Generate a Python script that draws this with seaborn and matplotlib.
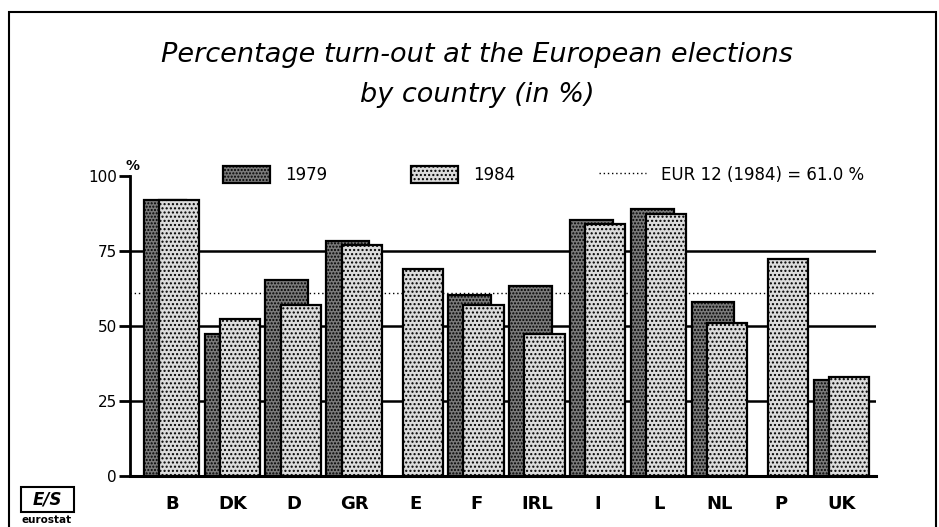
import numpy as np
import pandas as pd
import matplotlib
matplotlib.use('Agg')
import matplotlib.pyplot as plt
from matplotlib.patches import Patch, Rectangle
from matplotlib.lines import Line2D
import seaborn as sns

sns.set_theme(style='white')
plt.rcParams['font.family'] = ['DejaVu Sans']
plt.rcParams['hatch.linewidth'] = 1.0
plt.rcParams['text.color'] = 'black'
plt.rcParams['xtick.color'] = 'black'
plt.rcParams['ytick.color'] = 'black'
plt.rcParams['axes.labelcolor'] = 'black'

# data
countries = ['B', 'DK', 'D', 'GR', 'E', 'F', 'IRL', 'I', 'L', 'NL', 'P', 'UK']
turnout_1979 = [92, 47.5, 65.5, 78.5, np.nan, 60.5, 63.5, 85.5, 89, 58, np.nan, 32]
turnout_1984 = [92, 52.5, 57, 77, 69, 57, 47.5, 84, 87.5, 51, 72.5, 33]
eur12_1984 = 61.0

pos = np.arange(len(countries))
df79 = pd.DataFrame({'x': pos - 0.11, 'v': turnout_1979}).dropna()
df84 = pd.DataFrame({'x': pos + 0.12, 'v': turnout_1984}).dropna()

fig = plt.figure(figsize=(9.39, 5.27), dpi=100)
ax = fig.add_axes([130 / 939, 1 - 476 / 527, 746 / 939, 300 / 527])

# reference lines behind the bars
for g in [25, 50, 75]:
    ax.axhline(g, color='black', lw=1.8, zorder=0)
ax.axhline(eur12_1984, color='black', lw=1.0, ls=(0, (1, 2)), zorder=0)

style79 = dict(color='#7a7a7a', hatch='.....', edgecolor='black', linewidth=1.6)
style84 = dict(color='#dcdcdc', hatch='....', edgecolor='black', linewidth=1.6)

sns.barplot(data=df79, x='x', y='v', native_scale=True, width=0.70,
            saturation=1, errorbar=None, ax=ax, zorder=2, **style79)
sns.barplot(data=df84, x='x', y='v', native_scale=True, width=0.66,
            saturation=1, errorbar=None, ax=ax, zorder=3, **style84)

ax.set_xlim(-0.685, 11.565)
ax.set_ylim(0, 100)
ax.set_xticks(pos)
ax.set_xticklabels(countries, fontsize=13, fontweight='bold')
ax.set_yticks([0, 25, 50, 75, 100])
ax.set_yticklabels(['0', '25', '50', '75', '100'], fontsize=11)
ax.set_xlabel('')
ax.set_ylabel('')
ax.tick_params(axis='x', length=0, pad=14)
ax.tick_params(axis='y', length=8, width=2, color='black', left=True, pad=1.5)
for s in ['top', 'right']:
    ax.spines[s].set_visible(False)
ax.spines['left'].set_linewidth(2)
ax.spines['bottom'].set_linewidth(2.2)
ax.spines['left'].set_color('black')
ax.spines['bottom'].set_color('black')
ax.set_facecolor('white')
ax.grid(False)

# % unit label
fig.text(133 / 939, 1 - 166 / 527, '%', fontsize=10, fontweight='bold',
         ha='center', va='center')

# legend
handles = [Patch(facecolor=style79['color'], hatch=style79['hatch'], edgecolor='black', linewidth=1.6),
           Patch(facecolor=style84['color'], hatch=style84['hatch'], edgecolor='black', linewidth=1.6),
           Line2D([0], [0], color='black', lw=1.0, ls=(0, (1, 2)))]
labels = ['1979', '1984', 'EUR 12 (1984) = 61.0 %']
fig.legend(handles, labels, loc='center left',
           bbox_to_anchor=(223 / 939, 1 - 175 / 527), bbox_transform=fig.transFigure,
           ncol=3, frameon=False, fontsize=12, handlelength=2.8, handleheight=1.2,
           handletextpad=0.95, columnspacing=5.0, borderpad=0, borderaxespad=0)

# title
fig.text(477 / 939, 1 - 75 / 527,
         'Percentage turn-out at the European elections\nby country (in %)',
         fontsize=19.5, style='italic', ha='center', va='center', linespacing=1.65)

# outer frame
fig.patches.append(Rectangle((9 / 939, -0.02), 927 / 939, 1.02 - 12 / 527,
                             transform=fig.transFigure, fill=False,
                             edgecolor='black', linewidth=1.5))

# logo
fig.patches.append(Rectangle((21 / 939, 1 - 512 / 527), 53 / 939, 25 / 527,
                             transform=fig.transFigure, fill=False,
                             edgecolor='black', linewidth=1.5))
fig.text(47 / 939, 1 - 500 / 527, 'E/S', fontsize=12, fontweight='bold',
         style='italic', ha='center', va='center')
fig.text(47 / 939, 1 - 520 / 527, 'eurostat', fontsize=7.5, fontweight='bold',
         ha='center', va='center')

fig.savefig('out.png', dpi=100, facecolor='white')
